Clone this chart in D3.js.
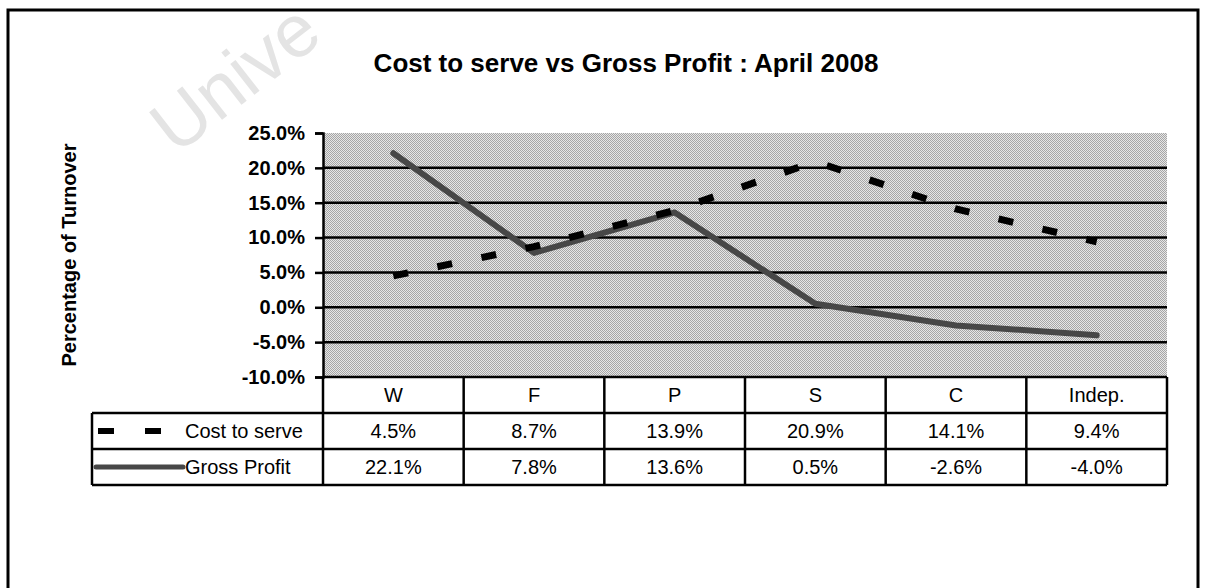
<!DOCTYPE html>
<html lang="en">
<head>
    <meta charset="UTF-8">
    <script src="https://d3js.org/d3.v7.min.js"></script>
    <style>
        body { margin: 0; background: #fff; }
        svg text { font-family: Arial, "Liberation Sans", sans-serif; }
    </style>
    <title>Cost to serve vs Gross Profit</title>
</head>
<body>
    <script type="text/javascript">
    // data
    const categories = ["W", "F", "P", "S", "C", "Indep."];
    const costToServe = [4.5, 8.7, 13.9, 20.9, 14.1, 9.4];
    const grossProfit = [22.1, 7.8, 13.6, 0.5, -2.6, -4.0];
    const yTicks = [25, 20, 15, 10, 5, 0, -5, -10];
    const seriesNames = ["Cost to serve", "Gross Profit"];

    const w = 1206;
    const h = 588;

    // plot area
    const plotL = 323, plotR = 1167, plotT = 133, plotB = 377;
    const rowH = 36;       // table rows under the plot
    const legendLeft = 92;

    const x = d3.scaleBand(categories, [plotL, plotR]);
    const y = d3.scaleLinear([-10, 25], [plotB, plotT]);
    // plain hyphen for negatives, like the original
    const pct = v => v.toFixed(1) + "%";

    const svg = d3.select("body")
        .append("svg")
        .attr("width", w)
        .attr("height", h);

    // dithered grey of the scanned plot area
    const pat = svg.append("defs").append("pattern")
        .attr("id", "dither")
        .attr("width", 2).attr("height", 2)
        .attr("patternUnits", "userSpaceOnUse");
    pat.append("rect").attr("width", 2).attr("height", 2).attr("fill", "#e6e6e6");
    pat.append("rect").attr("width", 1).attr("height", 1).attr("fill", "#a6a6a6");
    pat.append("rect").attr("x", 1).attr("y", 1).attr("width", 1).attr("height", 1).attr("fill", "#a6a6a6");

    // faint watermark from the scan
    svg.append("text")
        .attr("transform", "translate(176,156) rotate(-38)")
        .attr("font-size", "74px")
        .attr("fill", "#e4e4e4")
        .text("Unive");

    // outer frame (bottom edge is off the page)
    svg.append("rect")
        .attr("x", 8).attr("y", 10)
        .attr("width", 1190).attr("height", 600)
        .attr("fill", "none")
        .attr("stroke", "#000")
        .attr("stroke-width", 3);

    svg.append("text")
        .attr("x", 626).attr("y", 72)
        .attr("text-anchor", "middle")
        .attr("font-size", "26px")
        .attr("font-weight", "bold")
        .text("Cost to serve vs Gross Profit : April 2008");

    svg.append("rect")
        .attr("x", plotL).attr("y", plotT)
        .attr("width", plotR - plotL).attr("height", plotB - plotT)
        .attr("fill", "url(#dither)");

    // gridlines
    svg.selectAll("line.grid")
        .data(yTicks.filter(d => d < 25 && d > -10))
        .enter()
        .append("line")
        .attr("class", "grid")
        .attr("x1", plotL).attr("x2", plotR)
        .attr("y1", d => y(d)).attr("y2", d => y(d))
        .attr("stroke", "#000")
        .attr("stroke-width", 2.5);

    // y axis
    const yAxis = svg.append("g")
        .attr("transform", "translate(" + plotL + ",0)")
        .call(d3.axisLeft(y).tickValues(yTicks).tickSize(8).tickPadding(10).tickFormat(pct));
    yAxis.select(".domain").attr("stroke-width", 2.5);
    yAxis.selectAll(".tick line").attr("stroke-width", 2.5);
    yAxis.selectAll("text")
        .attr("font-size", "20px")
        .attr("font-weight", "bold")
        .attr("fill", "#000");

    svg.append("text")
        .attr("transform", "translate(76," + ((plotT + plotB) / 2) + ") rotate(-90)")
        .attr("text-anchor", "middle")
        .attr("font-size", "20px")
        .attr("font-weight", "bold")
        .text("Percentage of Turnover");

    // series lines
    const line = d3.line()
        .x((d, i) => x(categories[i]) + x.bandwidth() / 2)
        .y(d => y(d));

    svg.append("path")
        .datum(grossProfit)
        .attr("d", line)
        .attr("fill", "none")
        .attr("stroke", "#474747")
        .attr("stroke-width", 6)
        .attr("stroke-linejoin", "round")
        .attr("stroke-linecap", "round");

    svg.append("path")
        .datum(costToServe)
        .attr("d", line)
        .attr("fill", "none")
        .attr("stroke", "#000")
        .attr("stroke-width", 7)
        .attr("stroke-dasharray", "15,30");

    // data table
    const t = svg.append("g").attr("font-size", "20px");
    const rows = [costToServe, grossProfit];
    const tableBottom = plotB + rowH * 3;

    t.append("line")
        .attr("x1", plotL).attr("x2", plotR)
        .attr("y1", plotB).attr("y2", plotB)
        .attr("stroke", "#000").attr("stroke-width", 2.5);
    [1, 2, 3].forEach(r => {
        t.append("line")
            .attr("x1", legendLeft).attr("x2", plotR)
            .attr("y1", plotB + rowH * r).attr("y2", plotB + rowH * r)
            .attr("stroke", "#000").attr("stroke-width", 2.5);
    });
    t.append("line")
        .attr("x1", legendLeft).attr("x2", legendLeft)
        .attr("y1", plotB + rowH).attr("y2", tableBottom)
        .attr("stroke", "#000").attr("stroke-width", 2.5);
    t.selectAll("line.col")
        .data(categories.map(c => x(c)).concat([plotR]))
        .enter()
        .append("line")
        .attr("class", "col")
        .attr("x1", d => d).attr("x2", d => d)
        .attr("y1", plotB).attr("y2", tableBottom)
        .attr("stroke", "#000").attr("stroke-width", 2.5);

    t.selectAll("text.cat")
        .data(categories)
        .enter()
        .append("text")
        .attr("class", "cat")
        .attr("x", d => x(d) + x.bandwidth() / 2)
        .attr("y", plotB + rowH / 2 + 7)
        .attr("text-anchor", "middle")
        .text(d => d);

    rows.forEach((vals, r) => {
        t.selectAll("text.v" + r)
            .data(vals)
            .enter()
            .append("text")
            .attr("class", "v" + r)
            .attr("x", (d, i) => x(categories[i]) + x.bandwidth() / 2)
            .attr("y", plotB + rowH * (r + 1) + rowH / 2 + 7)
            .attr("text-anchor", "middle")
            .text(pct);
    });

    // legend keys inside the table
    const ly0 = plotB + rowH * 1.5;
    const ly1 = plotB + rowH * 2.5;
    t.append("line")
        .attr("x1", 98).attr("x2", 162)
        .attr("y1", ly0).attr("y2", ly0)
        .attr("stroke", "#000").attr("stroke-width", 6)
        .attr("stroke-dasharray", "16,31");
    t.append("line")
        .attr("x1", 96).attr("x2", 183)
        .attr("y1", ly1).attr("y2", ly1)
        .attr("stroke", "#474747").attr("stroke-width", 5)
        .attr("stroke-linecap", "round");
    seriesNames.forEach((s, r) => {
        t.append("text")
            .attr("x", 185)
            .attr("y", plotB + rowH * (r + 1) + rowH / 2 + 7)
            .text(s);
    });
    </script>
</body>
</html>
